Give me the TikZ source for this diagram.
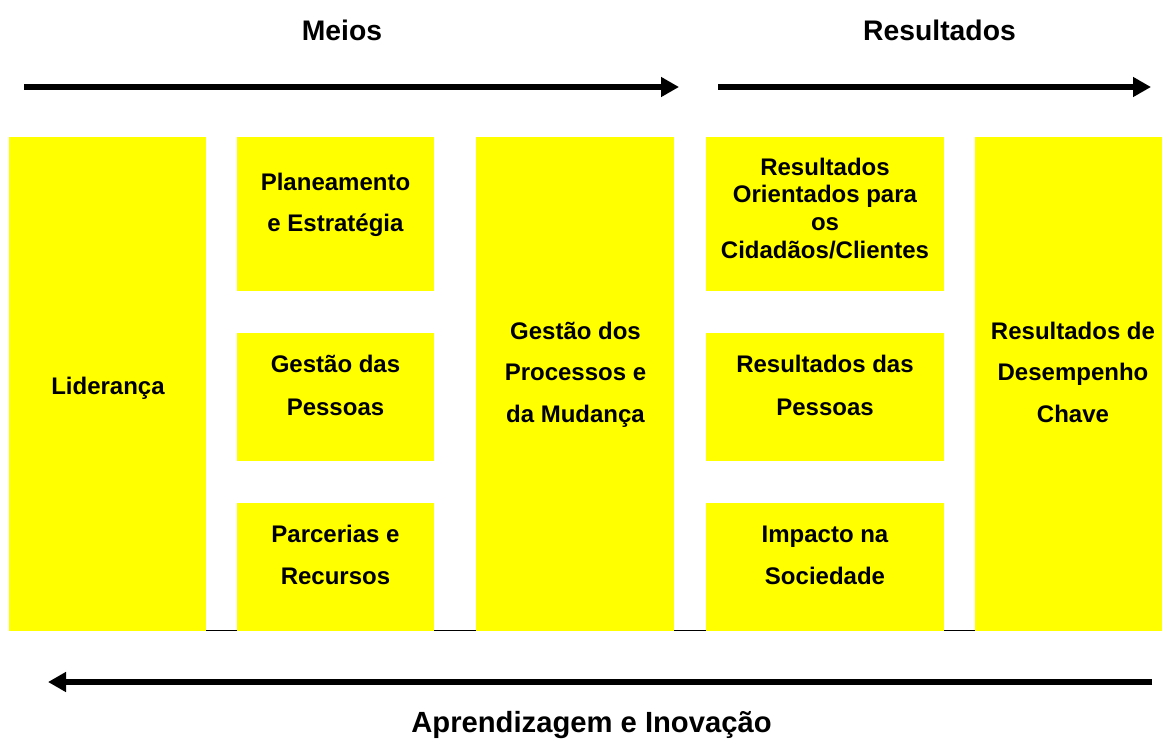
\documentclass[tikz,border=0pt]{standalone}
\usepackage{fontspec}
\setmainfont{Liberation Sans}
\usetikzlibrary{arrows.meta}
\definecolor{boxyellow}{RGB}{255,255,0}
\newcommand{\mlines}[1]{\begin{tabular}[t]{@{}c@{}}#1\end{tabular}}
\begin{document}
\begin{tikzpicture}[x=1pt,y=-1pt,
  box/.style={fill=boxyellow, draw=none, inner sep=0pt},
  txt/.style={font=\bfseries\fontsize{24}{#1}\selectfont, anchor=base, inner sep=0pt},
  title/.style={font=\bfseries\fontsize{#1}{32}\selectfont, anchor=base, inner sep=0pt},
  bigarrow/.style={line width=6pt, -{Triangle[length=18pt,width=19pt]}},
  gapline/.style={line width=1.5pt}]
\useasboundingbox (0,0) rectangle (1162,742);
% boxes
\node[box, minimum width=197pt, minimum height=494pt] (b1) at (107.5,384) {};
\node[box, minimum width=197pt, minimum height=154pt] (b2a) at (335.5,214) {};
\node[box, minimum width=197pt, minimum height=128pt] (b2b) at (335.5,397) {};
\node[box, minimum width=197pt, minimum height=128pt] (b2c) at (335.5,567) {};
\node[box, minimum width=198pt, minimum height=494pt] (b3) at (575,384) {};
\node[box, minimum width=238pt, minimum height=154pt] (b4a) at (825,214) {};
\node[box, minimum width=238pt, minimum height=128pt] (b4b) at (825,397) {};
\node[box, minimum width=238pt, minimum height=128pt] (b4c) at (825,567) {};
\node[box, minimum width=187pt, minimum height=494pt] (b5) at (1068.5,384) {};
% texts
\node[txt=40] (t1) at (108,394) {Liderança};
\node[txt=41] (t2a) at (335.5,190) {\mlines{Planeamento\\e Estratégia}};
\node[txt=43] (t2b) at (335.5,372) {\mlines{Gestão das\\Pessoas}};
\node[txt=42] (t2c) at (335.5,542) {\mlines{Parcerias e\\Recursos}};
\node[txt=41.5] (t3) at (575.5,339) {\mlines{Gestão dos\\Processos e\\da Mudança}};
\node[txt=27.7] (t4a) at (825,175) {\mlines{Resultados\\Orientados para\\os\\Cidadãos/Clientes}};
\node[txt=43] (t4b) at (825,372) {\mlines{Resultados das\\Pessoas}};
\node[txt=42] (t4c) at (825,542) {\mlines{Impacto na\\Sociedade}};
\node[txt=41.5] (t5) at (1073,339) {\mlines{Resultados de\\Desempenho\\Chave}};
% gap lines at the bottom
\draw[gapline] ([yshift=0.5pt]b1.south east) -- ([yshift=0.5pt]b2c.south west);
\draw[gapline] ([yshift=0.5pt]b2c.south east) -- ([yshift=0.5pt]b3.south west);
\draw[gapline] ([yshift=0.5pt]b3.south east) -- ([yshift=0.5pt]b4c.south west);
\draw[gapline] ([yshift=0.5pt]b4c.south east) -- ([yshift=0.5pt]b5.south west);
% titles
\node[title=28.3] (meios) at (342,40) {Meios};
\node[title=28.3] (result) at (939.5,40) {Resultados};
\node[title=29.2] (aprend) at (591.5,732) {Aprendizagem e Inovação};
% arrows
\coordinate (a1s) at (24,87);
\coordinate (a1e) at (679,87);
\coordinate (a2s) at (718,87);
\coordinate (a2e) at (1151,87);
\coordinate (a3s) at (1152,682);
\coordinate (a3e) at (48,682);
\draw[bigarrow] (a1s) -- (a1e);
\draw[bigarrow] (a2s) -- (a2e);
\draw[bigarrow] (a3s) -- (a3e);
\end{tikzpicture}
\end{document}
